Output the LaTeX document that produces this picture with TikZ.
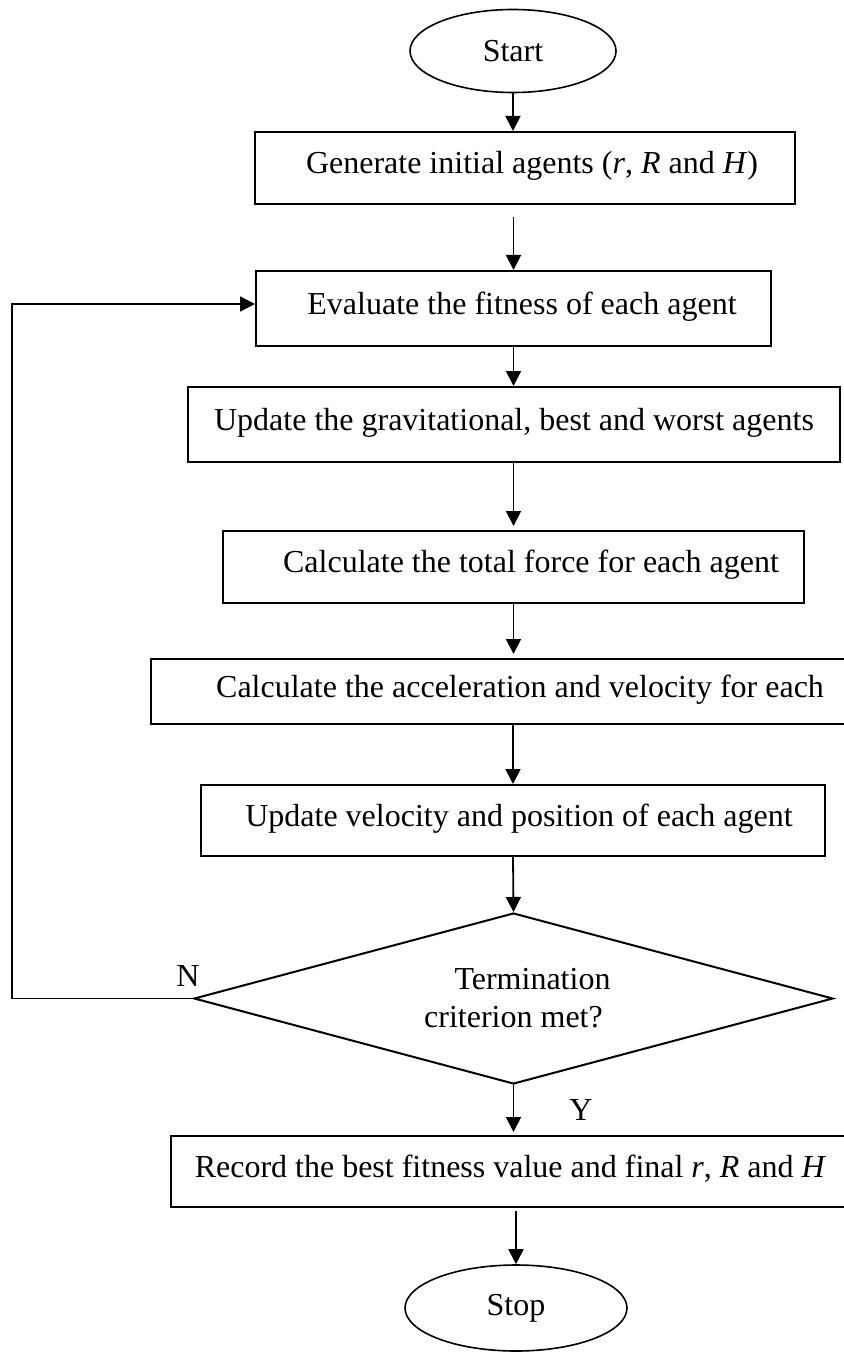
\documentclass[tikz,border=0pt]{standalone}
\usepackage{fontspec}
\setmainfont{Liberation Serif}
\usetikzlibrary{shapes.geometric, arrows.meta}

\begin{document}
\begin{tikzpicture}[x = 0.5pt, y = -0.5pt,
    every node/.style = {font = \fontsize{16}{19}\selectfont},
    box/.style = {draw, line width = 1pt, rectangle, inner sep = 0pt, text height = 11pt, text depth = 5.4pt},
    term/.style = {draw, line width = 0.8pt, ellipse, inner sep = 0pt},
    flow/.style = {line width = 0.9pt, -{Triangle[length = 7.5pt, width = 7.5pt]}}]

    \useasboundingbox (0, 0) rectangle (844, 1353);

    \node[term, minimum width = 103pt, minimum height = 41.5pt] (start) at (513, 51) {Start};

    \node[box, minimum width = 270pt, minimum height = 36pt] (init) at (525, 168)
        {\hspace*{7pt}Generate initial agents (\textit{r}, \textit{R} and \textit{H})};
    \node[box, minimum width = 257.5pt, minimum height = 37.5pt] (eval) at (513.5, 308.5)
        {\hspace*{8.5pt}Evaluate the fitness of each agent};
    \node[box, minimum width = 326pt, minimum height = 37.5pt] (upd) at (514, 424.5)
        {Update the gravitational, best and worst agents};
    \node[box, minimum width = 290.5pt, minimum height = 36pt] (force) at (513.5, 567)
        {\hspace*{17.5pt}Calculate the total force for each agent};
    \node[box, minimum width = 349.5pt, minimum height = 32.5pt] (accel) at (500.5, 691.5)
        {\hspace*{19.5pt}Calculate the acceleration and velocity for each};
    \node[box, minimum width = 312pt, minimum height = 35.5pt] (move) at (513, 820.5)
        {\hspace*{6pt}Update velocity and position of each agent};

    \node[draw, diamond, aspect = 3.74, line width = 1pt, inner sep = 0pt, align = center,
        minimum width = 319.5pt, minimum height = 85.5pt] (dec) at (513.5, 998.5)
        {\hspace*{19pt}Termination\\criterion met?};

    \node[box, minimum width = 339.5pt, minimum height = 35.5pt] (rec) at (510.5, 1171.5)
        {Record the best fitness value and final \textit{r}, \textit{R} and \textit{H}};

    \node[term, minimum width = 111pt, minimum height = 43pt] (stop) at (516, 1308) {Stop};

    \node (no) at (188, 976) {N};
    \node (yes) at (581, 1110) {Y};

    % main flow
    \draw[flow] (start.south) -- (start.south |- init.north);
    \draw[flow, shorten < = 6pt] (eval.north |- init.south) -- (eval.north);
    \draw[flow] (eval.south) -- (eval.south |- upd.north);
    \draw[flow] (force.north |- upd.south) -- ([yshift = 2pt]force.north);
    \draw[flow] (force.south) -- ([yshift = 2pt]force.south |- accel.north);
    \draw[flow] (move.north |- accel.south) -- (move.north);
    \draw[flow] (move.south) -- (dec.north);
    \draw[flow] (dec.south) -- ([yshift = 1.5pt]dec.south |- rec.north);
    \draw[flow, shorten < = 1.5pt] (stop.north |- rec.south) -- (stop.north);

    % loop back
    \coordinate (back) at (12, 304);
    \draw[flow] (dec.west) -| (back) -- (back -| eval.west);

\end{tikzpicture}
\end{document}
